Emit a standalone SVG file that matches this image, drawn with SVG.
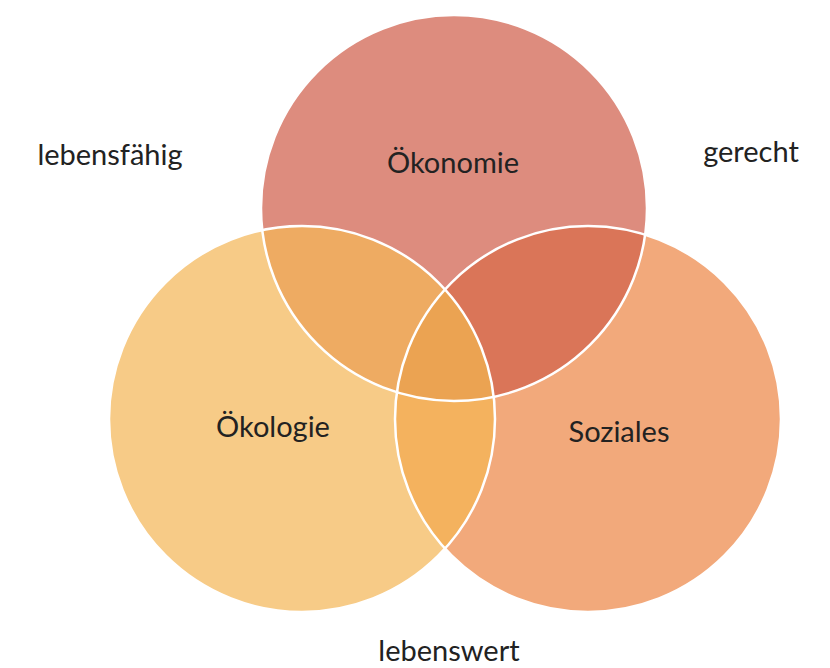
<svg xmlns="http://www.w3.org/2000/svg" width="830" height="668" viewBox="0 0 830 668">
<style>
text{font-family:Lato,"Open Sans","Liberation Sans",sans-serif;font-size:29px;fill:#222222;text-anchor:middle}
.ol{fill:none;stroke:#ffffff;stroke-width:2.5}
</style>
<defs>
<clipPath id="cT"><circle cx="454" cy="208" r="193"/></clipPath>
<clipPath id="cL"><circle cx="302" cy="419" r="193"/></clipPath>
<clipPath id="cR"><circle cx="588" cy="419" r="193"/></clipPath>
</defs>
<rect width="830" height="668" fill="#ffffff"/>
<g id="oekonomie"><circle cx="454" cy="208" r="193" fill="#DD8C7E"/></g>
<g id="oekologie"><circle cx="302" cy="419" r="193" fill="#F7CB87"/></g>
<g id="soziales"><circle cx="588" cy="419" r="193" fill="#F2A97B"/></g>
<g id="overlaps">
<circle cx="302" cy="419" r="193" fill="#EEAB62" clip-path="url(#cT)"/>
<circle cx="588" cy="419" r="193" fill="#DA7558" clip-path="url(#cT)"/>
<circle cx="588" cy="419" r="193" fill="#F4B25E" clip-path="url(#cL)"/>
<g clip-path="url(#cT)"><circle cx="588" cy="419" r="193" fill="#EBA352" clip-path="url(#cL)"/></g>
</g>
<g id="outlines">
<circle class="ol" cx="454" cy="208" r="193"/>
<circle class="ol" cx="302" cy="419" r="193"/>
<circle class="ol" cx="588" cy="419" r="193"/>
</g>
<g id="labels">
<text x="453" y="173">Ökonomie</text>
<text x="273" y="437">Ökologie</text>
<text x="619" y="442">Soziales</text>
<text x="110" y="165">lebensfähig</text>
<text x="751" y="162">gerecht</text>
<text x="449" y="661">lebenswert</text>
</g>
</svg>
